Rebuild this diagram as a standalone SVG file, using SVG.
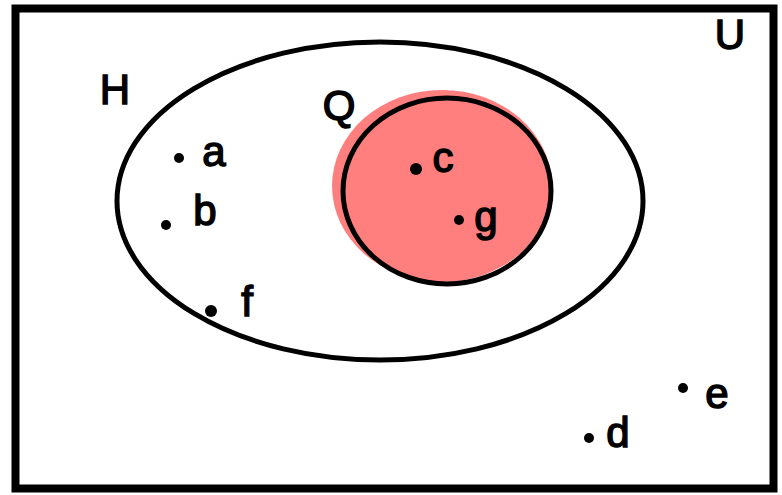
<svg xmlns="http://www.w3.org/2000/svg" width="782" height="495" viewBox="0 0 782 495">
<style>
.lbl{font-family:"Liberation Sans",Arial,sans-serif;font-size:42px;fill:#000;stroke:#000;stroke-width:1.5}
.dot{fill:#000}
.ln{fill:none;stroke:#000}
</style>
<rect width="782" height="495" fill="#fff"/>
<g id="U">
<rect class="ln" x="15.5" y="8.5" width="758" height="480" stroke-width="8"/>
<text class="lbl" x="730" y="49" text-anchor="middle" font-size="46">U</text>
</g>
<g id="H">
<ellipse class="ln" cx="380" cy="201" rx="263" ry="159" stroke-width="5"/>
<text class="lbl" x="115" y="104" text-anchor="middle">H</text>
</g>
<g id="Q">
<ellipse cx="442" cy="186" rx="110" ry="96" fill="#FF7F7F"/>
<ellipse class="ln" cx="447" cy="191" rx="104" ry="93" stroke-width="5"/>
<text class="lbl" x="339" y="120" text-anchor="middle">Q</text>
</g>
<g id="a"><circle class="dot" cx="179" cy="158" r="5"/><text class="lbl" x="214" y="166" text-anchor="middle">a</text></g>
<g id="b"><circle class="dot" cx="166" cy="225" r="5"/><text class="lbl" x="205" y="225" text-anchor="middle">b</text></g>
<g id="f"><circle class="dot" cx="211" cy="311" r="6"/><text class="lbl" x="247" y="316" text-anchor="middle">f</text></g>
<g id="c"><circle class="dot" cx="416" cy="169" r="6"/><text class="lbl" x="443" y="172" text-anchor="middle">c</text></g>
<g id="g"><circle class="dot" cx="459" cy="220" r="5"/><text class="lbl" x="486" y="231" text-anchor="middle">g</text></g>
<g id="d"><circle class="dot" cx="589" cy="438" r="5"/><text class="lbl" x="618" y="447" text-anchor="middle">d</text></g>
<g id="e"><circle class="dot" cx="683" cy="388" r="5"/><text class="lbl" x="717" y="408" text-anchor="middle">e</text></g>
</svg>
